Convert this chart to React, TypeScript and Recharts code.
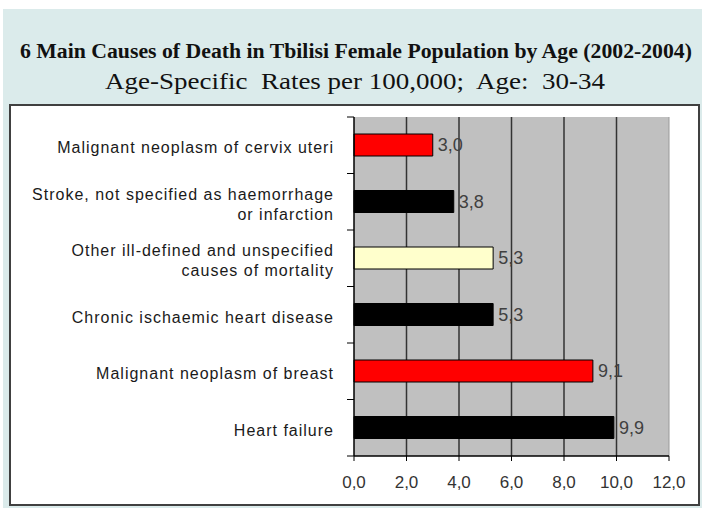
import React from "react";
import {
  BarChart,
  Bar,
  XAxis,
  YAxis,
  CartesianGrid,
  Cell,
  LabelList,
  ReferenceLine,
} from "recharts";

const causes = [
  "Malignant neoplasm of cervix uteri",
  "Stroke, not specified as haemorrhage\nor infarction",
  "Other ill-defined and unspecified\ncauses of mortality",
  "Chronic ischaemic heart disease",
  "Malignant neoplasm of breast",
  "Heart failure",
];
const rates = [3.0, 3.8, 5.3, 5.3, 9.1, 9.9];
const barColors = ["#ff0000", "#000000", "#ffffcc", "#000000", "#ff0000", "#000000"];
const rateTicks = [0, 2, 4, 6, 8, 10, 12];

const data = causes.map((name, i) => ({ name, value: rates[i] }));

const sans = "Arial, 'Liberation Sans', sans-serif";
const serif = "'Times New Roman', 'Liberation Serif', serif";

const comma = (v: number) => Number(v).toFixed(1).replace(".", ",");

// category label, plus the small boundary ticks between categories
function CauseTick(props: any) {
  const { x, y, payload, index } = props;
  const lines = String(payload.value).split("\n");
  const half = payload.offset || 0;
  const x2 = x + 20;
  return (
    <g>
      {half > 0 && <line x1={x2 - 7} x2={x2} y1={y - half} y2={y - half} stroke="#000" />}
      {half > 0 && index === causes.length - 1 && (
        <line x1={x2 - 7} x2={x2} y1={y + half} y2={y + half} stroke="#000" />
      )}
      <text
        x={x}
        y={y}
        textAnchor="end"
        fontSize={16}
        fontFamily={sans}
        letterSpacing={1}
        fill="#1a1a1a"
      >
        {lines.map((l, i) => (
          <tspan key={i} x={x} dy={i === 0 ? 8 - (lines.length - 1) * 10 : 20}>
            {l}
          </tspan>
        ))}
      </text>
    </g>
  );
}

export default function App() {
  return (
    <div style={{ position: "absolute", left: 0, top: 0, width: 702, height: 508, background: "#fff" }}>
      <div style={{ position: "absolute", left: 3, top: 9, width: 699, height: 499, background: "#dbebeb" }} />
      <div
        style={{
          position: "absolute",
          left: 9,
          top: 104,
          width: 691,
          height: 402,
          background: "#fff",
          border: "2px solid #404040",
          boxSizing: "border-box",
        }}
      />
      <svg width={702} height={508} style={{ position: "absolute", left: 0, top: 0 }}>
        <text
          x={356}
          y={58}
          textAnchor="middle"
          fontFamily={serif}
          fontWeight="bold"
          fontSize={20}
          textLength={672}
          lengthAdjust="spacingAndGlyphs"
          fill="#111"
        >
          6 Main Causes of Death in Tbilisi Female Population by Age (2002-2004)
        </text>
        <text
          x={355}
          y={89}
          textAnchor="middle"
          fontFamily={serif}
          fontSize={24}
          textLength={500}
          lengthAdjust="spacingAndGlyphs"
          fill="#111"
          style={{ whiteSpace: "pre" }}
        >
          {"Age-Specific  Rates per 100,000;  Age:  30-34"}
        </text>
      </svg>
      <div style={{ position: "absolute", left: 0, top: 0 }}>
        <BarChart
          width={702}
          height={508}
          data={data}
          layout="vertical"
          margin={{ top: 117, right: 33, left: 0, bottom: 12 }}
        >
          <CartesianGrid
            horizontal={false}
            vertical={true}
            verticalValues={[2, 4, 6, 8, 10]}
            stroke="#333"
            strokeWidth={1.5}
            fill="#c0c0c0"
            fillOpacity={1}
          />
          <YAxis
            type="category"
            dataKey="name"
            width={354}
            axisLine={{ stroke: "#000", strokeWidth: 1.5 }}
            tickLine={false}
            tickSize={0}
            tickMargin={20}
            tick={<CauseTick />}
            interval={0}
          />
          <XAxis
            type="number"
            domain={[0, 12]}
            ticks={rateTicks}
            tickFormatter={comma}
            height={40}
            tickSize={5}
            tickMargin={15}
            axisLine={{ stroke: "#000", strokeWidth: 1.5 }}
            tickLine={{ stroke: "#000" }}
            tick={{ fill: "#333", fontSize: 17, fontFamily: sans }}
          />
          <ReferenceLine x={12} stroke="#9a9a9a" strokeWidth={1} />
          <Bar
            dataKey="value"
            barSize={22}
            stroke="#000"
            strokeWidth={1}
            isAnimationActive={false}
          >
            {data.map((d, i) => (
              <Cell key={d.name} fill={barColors[i]} />
            ))}
            <LabelList
              dataKey="value"
              position="right"
              offset={5}
              formatter={(v: any) => comma(v)}
              fill="#404040"
              style={{ fontSize: 18, fontFamily: sans }}
            />
          </Bar>
        </BarChart>
      </div>
    </div>
  );
}
